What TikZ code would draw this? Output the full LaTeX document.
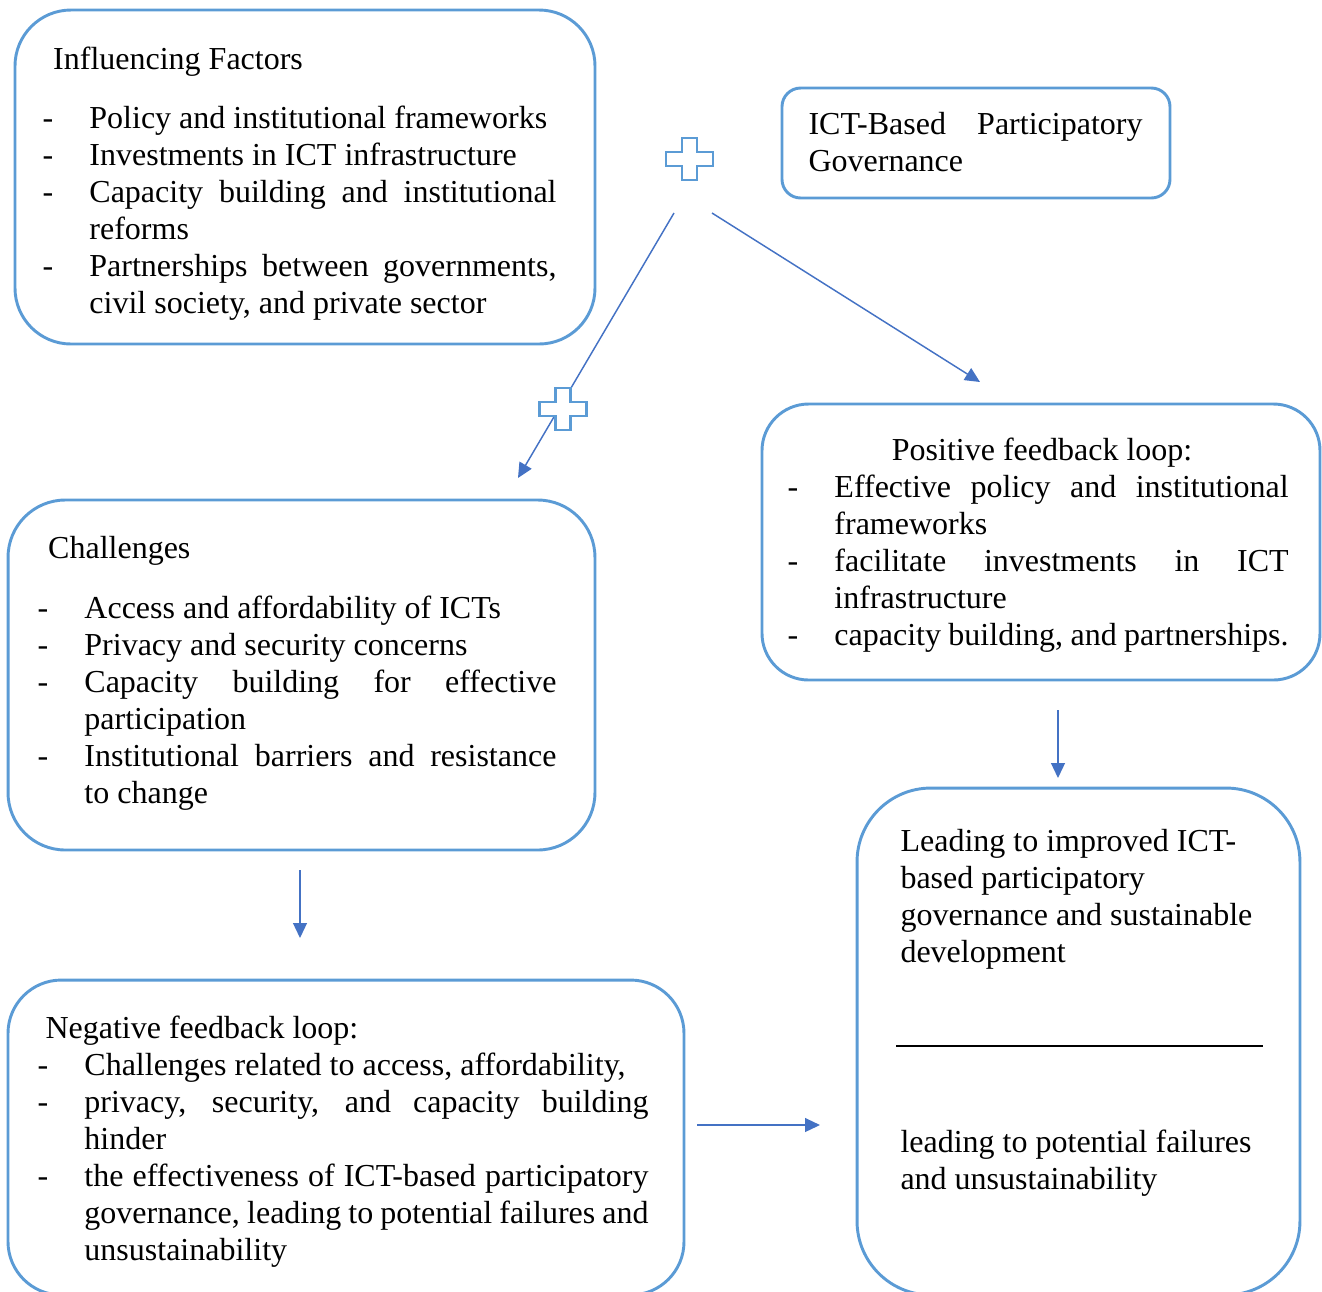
\documentclass[tikz,border=0pt]{standalone}
\usepackage{fontspec}
\setmainfont{Liberation Serif}
\usepackage{xcolor}
\usepackage{tikz}
\usetikzlibrary{positioning}
\usetikzlibrary{arrows.meta}

\definecolor{boxblue}{HTML}{5B9BD5}
\definecolor{arrowblue}{HTML}{4472C4}

\newlength{\dw}
\setlength{\dw}{17.6pt}
\newcommand{\dsh}{\makebox[\dw][l]{-}}
\newcommand{\jline}[1]{\makebox[\dimexpr\linewidth-\dw\relax][s]{#1}}
\newcommand{\cont}{\hspace*{\dw}}

\tikzset{
    roundbox/.style={draw=boxblue, line width=1.1pt, inner sep=0pt, rounded corners=#1},
    txt/.style={anchor=north west, inner sep=0pt, align=justify, font=\fontsize{12pt}{13.875pt}\selectfont},
    arr/.style={draw=arrowblue, line width=0.55pt, -{Triangle[length=5.6pt,width=5.2pt]}},
    plussign/.pic={
        \draw[boxblue, line width=1.1pt, fill=white] (-7.5,-21) -- (7.5,-21) -- (7.5,-7) -- (23.5,-7) -- (23.5,7) -- (7.5,7)
            -- (7.5,21) -- (-7.5,21) -- (-7.5,7) -- (-23.5,7) -- (-23.5,-7) -- (-7.5,-7) -- cycle;
    }
}

\begin{document}
\begin{tikzpicture}[x=0.375pt, y=-0.375pt]
    \useasboundingbox (0,0) rectangle (1322,1291);

    % boxes
    \node[roundbox=21pt, minimum width=217.5pt, minimum height=125.25pt] (inf) at (305,177) {};
    \node[roundbox=7pt, minimum width=145.5pt, minimum height=41.25pt] (ict) at (976,143) {};
    \node[roundbox=21.5pt, minimum width=220.1pt, minimum height=131.25pt] (chal) at (301.5,675) {};
    \node[roundbox=17.5pt, minimum width=209.25pt, minimum height=103.5pt] (pos) at (1041,542) {};
    \node[roundbox=20pt, minimum width=253.5pt, minimum height=118.1pt] (neg) at (346,1137.5) {};
    \node[roundbox=27.7pt, minimum width=166.1pt, minimum height=190.1pt] (lead) at (1078.5,1041.5) {};

    % texts
    \node[txt, text width=192.75pt] (inftxt) at (42,46) {\hspace*{4pt}Influencing Factors\\[8.4pt]
        \dsh Policy and institutional frameworks\\
        \dsh Investments in ICT infrastructure\\
        \dsh\jline{Capacity building and institutional}\\
        \cont reforms\\
        \dsh\jline{Partnerships between governments,}\\
        \cont civil society, and private sector};

    \node[txt, text width=125.25pt] (icttxt) at (808,112) {\makebox[\linewidth][s]{ICT-Based Participatory}\\
        Governance};

    \node[txt, text width=194.6pt] (chaltxt) at (37,536) {\hspace*{4pt}Challenges\\[8.4pt]
        \dsh Access and affordability of ICTs\\
        \dsh Privacy and security concerns\\
        \dsh\jline{Capacity building for effective}\\
        \cont participation\\
        \dsh\jline{Institutional barriers and resistance}\\
        \cont to change};

    \node[txt, text width=187.9pt] (postxt) at (787,437) {\makebox[\linewidth]{\hspace*{3pt}Positive feedback loop:}\\
        \dsh\jline{Effective policy and institutional}\\
        \cont frameworks\\
        \dsh\jline{facilitate investments in ICT}\\
        \cont infrastructure\\
        \dsh capacity building, and partnerships.};

    \node[txt, text width=229.1pt] (negtxt) at (37,1015) {\hspace*{3pt}Negative feedback loop:\\
        \dsh Challenges related to access, affordability,\\
        \dsh\jline{privacy, security, and capacity building}\\
        \cont hinder\\
        \dsh\jline{the effectiveness of ICT-based participatory}\\
        \cont\jline{governance, leading to potential failures and}\\
        \cont unsustainability};

    \node[txt, text width=140pt] (leadtop) at (900,829) {Leading to improved ICT-\\
        based participatory\\
        governance and sustainable\\
        development};
    \node[txt, text width=140pt] (leadbot) at (900,1129) {leading to potential failures\\
        and unsustainability};

    % separator in the right box
    \coordinate (sepl) at (896,1046);
    \coordinate (sepr) at (1263,1046);
    \draw[black, line width=0.75pt] (sepl) -- (sepr);

    % arrows
    \coordinate (ictl) at (674,213);
    \coordinate (ictr) at (712,213);
    \coordinate (chalin) at (518,478);
    \coordinate (posin) at (980,382);
    \coordinate (posout) at (1058,710);
    \coordinate (leadin) at (1058,778);
    \coordinate (chalout) at (300,870);
    \coordinate (negin) at (300,938);
    \coordinate (negout) at (697,1125);
    \coordinate (leadleft) at (820,1125);

    \draw[arr] (ictl) -- (chalin);
    \draw[arr] (ictr) -- (posin);
    \draw[arr] (posout) -- (leadin);
    \draw[arr] (chalout) -- (negin);
    \draw[arr] (negout) -- (leadleft);

    % plus signs
    \pic (plustop) at (689.5,159) {plussign};
    \pic (plusmid) at (563,409) {plussign};
\end{tikzpicture}
\end{document}
